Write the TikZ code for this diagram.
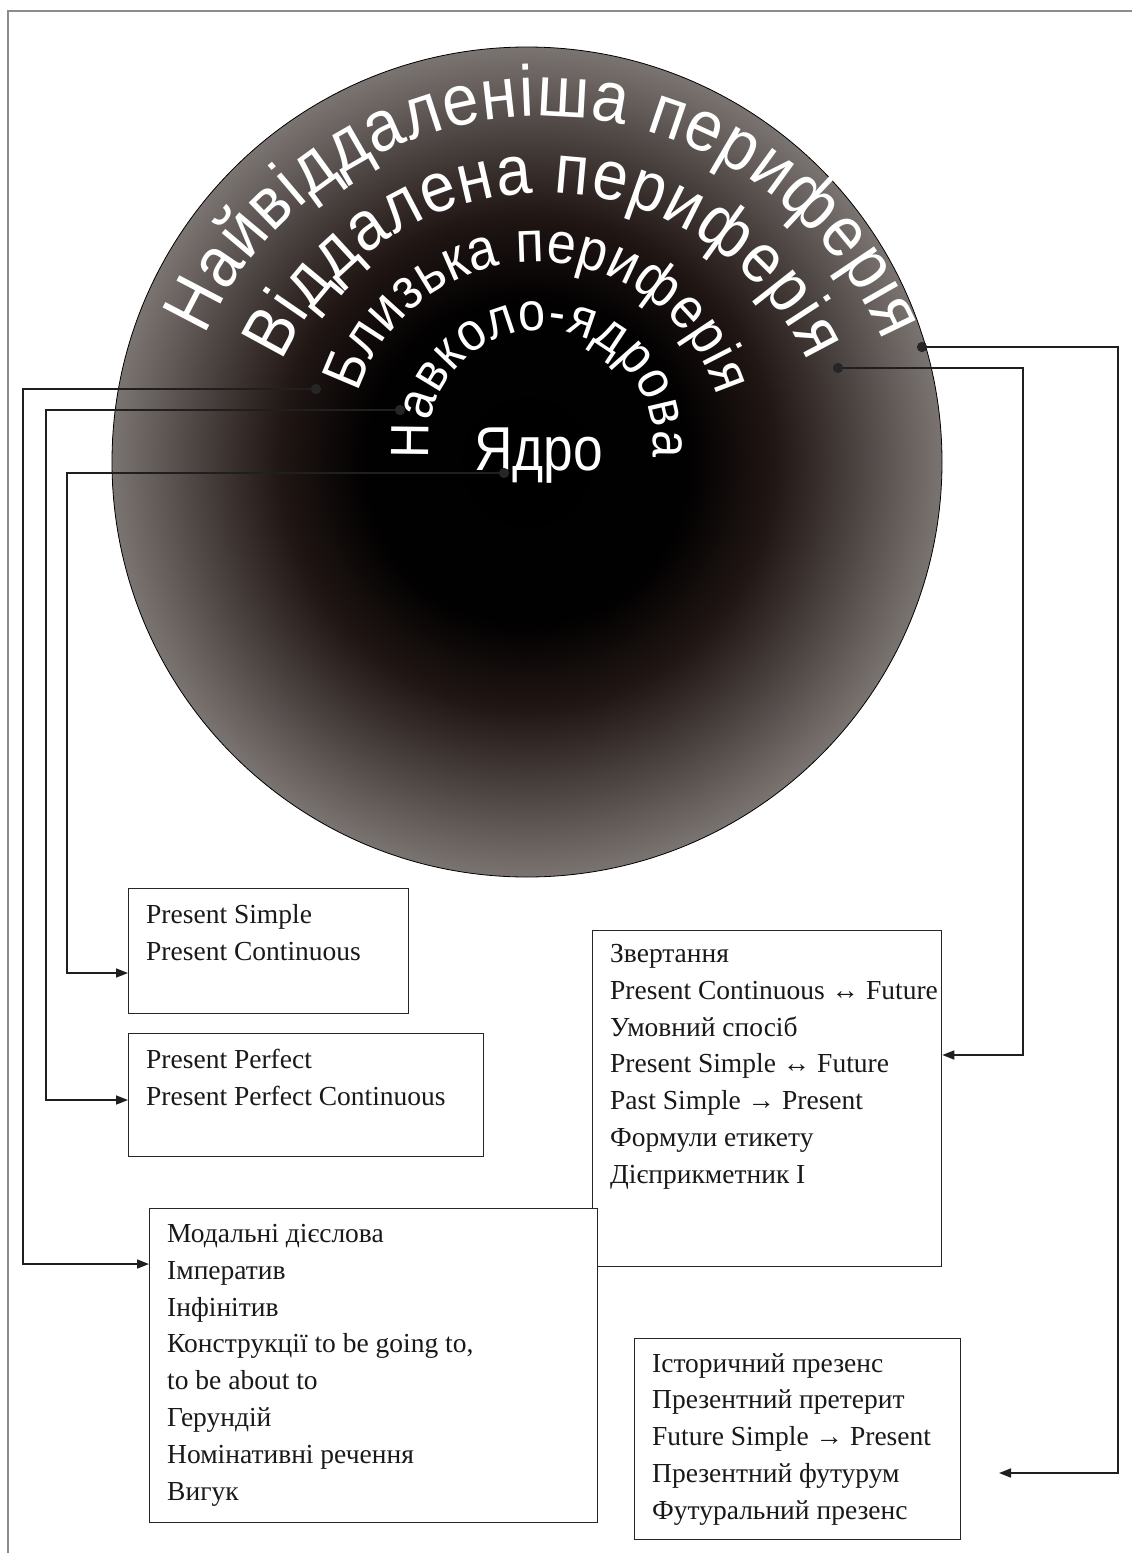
\documentclass[tikz,border=0pt]{standalone}
\usepackage{fontspec}
\setmainfont{Liberation Serif}
\newfontfamily\arcfont[FakeStretch=0.9]{Liberation Sans}
\newfontfamily\coreletters[FakeStretch=0.86]{Liberation Sans}
\usetikzlibrary{decorations.text,arrows.meta}
\pgfdeclareradialshading{ringshade}{\pgfpoint{0bp}{0bp}}{rgb(0bp)=(0,0,0); rgb(10bp)=(0.01,0.005,0.005); rgb(15bp)=(0.13,0.09,0.08); rgb(20bp)=(0.30,0.27,0.26); rgb(25bp)=(0.48,0.455,0.445); rgb(50bp)=(0.48,0.455,0.445)}
\begin{document}
\begin{tikzpicture}[x=1pt,y=-1pt,
  box/.style={draw=black!85, line width=1.3, fill=white, inner sep=0, anchor=north west},
  btext/.style={font=\fontsize{27.5}{36.8}\selectfont, align=left, inner sep=0, anchor=north west, text=black!90},
  conn/.style={draw=black!88, line width=1.6, -{Triangle[length=12pt,width=9pt]}},
  dotst/.style={circle, fill=black!85, inner sep=0, minimum size=10},
  arctext/.style={decorate, decoration={text along path, text align={fit to path}, text color=white, text={#1}}}
]
\useasboundingbox (0,0) rectangle (1132,1553);
% frame
\draw[black!45, line width=1.2] (8,1553) -- (8,11) -- (1132,11);

% circle
\node[circle, shade, shading=ringshade, draw=black, line width=0.8, minimum size=830, inner sep=0] (core) at (527,462) {};

% arc texts
\path[arctext={|\arcfont\fontsize{72}{78}\selectfont|Найвіддаленіша периферія}]
  (543,486) ++(204:370) arc[start angle=204, end angle=337, radius=370];
\path[arctext={|\arcfont\fontsize{70}{76}\selectfont|Віддалена периферія}]
  (545,482) ++(204.5:289) arc[start angle=204.5, end angle=335.5, radius=289];
\path[arctext={|\arcfont\fontsize{58}{64}\selectfont|Близька периферія}]
  (537,450) ++(197.7:188) arc[start angle=197.7, end angle=343.4, radius=188];
\path[arctext={|\arcfont\fontsize{54}{60}\selectfont|Навколо-ядрова}]
  (541,442) ++(171.8:112) arc[start angle=171.8, end angle=367.7, radius=112];
\node[anchor=base west, inner sep=0, text=white, font=\coreletters\fontsize{62}{68}\selectfont] (yadro) at (474,470) {Ядро};

% boxes
\node[box, minimum width=280, minimum height=125] (b1) at (128,888) {};
\node[box, minimum width=355, minimum height=123] (b2) at (128,1033) {};
\node[box, minimum width=349, minimum height=336] (b4) at (592,930) {};
\node[box, minimum width=448, minimum height=314] (b3) at (149,1208) {};
\node[box, minimum width=326, minimum height=201] (b5) at (634,1338) {};

\node[btext] (t1) at (146,904) {Present Simple\\Present Continuous};
\node[btext] (t2) at (146,1049) {Present Perfect\\Present Perfect Continuous};
\node[btext] (t3) at (167,1224) {Модальні дієслова\\Імператив\\Інфінітив\\Конструкції to be going to,\\to be about to\\Герундій\\Номінативні речення\\Вигук};
\node[btext] (t4) at (610,944) {Звертання\\Present Continuous ↔ Future\\Умовний спосіб\\Present Simple ↔ Future\\Past Simple → Present\\Формули етикету\\Дієприкметник І};
\node[btext] (t5) at (652,1353) {Історичний презенс\\Презентний претерит\\Future Simple → Present\\Презентний футурум\\Футуральний презенс};

% dots
\node[dotst] (d1) at (316,389) {};
\node[dotst] (d2) at (400,410) {};
\node[dotst] (d3) at (504,473) {};
\node[dotst] (d4) at (922,347) {};
\node[dotst] (d5) at (838,368) {};

% bend coordinates
\coordinate (l1a) at (23,389);  \coordinate (l1b) at (23,1264);
\coordinate (l2a) at (46,410);  \coordinate (l2b) at (46,1100);
\coordinate (l3a) at (67,473);  \coordinate (l3b) at (67,973);
\coordinate (r1a) at (1118,347); \coordinate (r1b) at (1118,1473); \coordinate (r1end) at (999,1473);
\coordinate (r2a) at (1023,368); \coordinate (r2b) at (1023,1055);

% connectors
\draw[conn] (d1.center) -- (l1a) -- (l1b) -- (l1b -| b3.west);
\draw[conn] (d2.center) -- (l2a) -- (l2b) -- (l2b -| b2.west);
\draw[conn] (d3.center) -- (l3a) -- (l3b) -- (l3b -| b1.west);
\draw[conn] (d4.center) -- (r1a) -- (r1b) -- (r1end);
\draw[conn] (d5.center) -- (r2a) -- (r2b) -- (r2b -| b4.east);

% dots on top
\node[dotst] at (d1) {};
\node[dotst] at (d2) {};
\node[dotst] at (d3) {};
\node[dotst] at (d4) {};
\node[dotst] at (d5) {};
\end{tikzpicture}
\end{document}
